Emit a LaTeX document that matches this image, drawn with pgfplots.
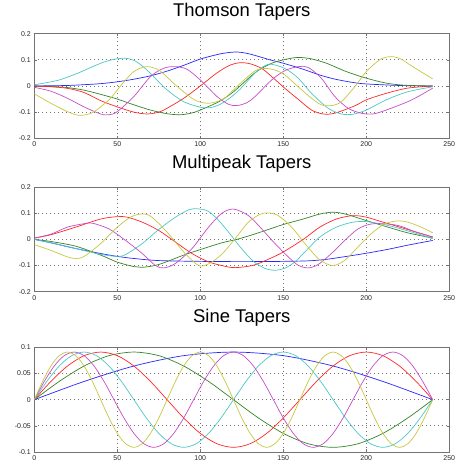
\documentclass[border=0pt]{standalone}
\usepackage{fontspec}
\setmainfont{Liberation Sans}
\usepackage{pgfplots}
\pgfplotsset{compat=1.18}

\definecolor{mb}{rgb}{0.15,0.15,1}
\definecolor{mg}{rgb}{0.2,0.52,0.15}
\definecolor{mr}{rgb}{1,0.15,0.15}
\definecolor{mc}{rgb}{0.3,0.78,0.78}
\definecolor{mm}{rgb}{0.78,0.3,0.78}
\definecolor{my}{rgb}{0.78,0.78,0.25}

\pgfplotsset{
  taper/.style={
    scale only axis, width=415bp, height=104.6bp,
    xmin=0, xmax=250,
    xtick={0,50,100,150,200,250}, xticklabels={0,50,100,150,200,250},
    grid=major,
    major grid style={dash pattern=on 0.9bp off 3.1bp, black!55, line width=0.8bp},
    axis line style={black!55, line width=0.9bp},
    tick align=inside, major tick length=2.5bp,
    tick style={black!55, line width=0.5bp},
    ticklabel style={font=\fontsize{7}{8}\selectfont, text=black!85},
    title style={font=\fontsize{18.5}{20}\selectfont, at={(0.5,1)},
                 anchor=base, inner sep=0pt},
    every axis plot/.append style={line width=0.7bp, smooth},
  },
}

\begin{document}
\begin{tikzpicture}
\path[use as bounding box] (0,0) rectangle (458bp,463bp);

%-- Thomson tapers
\begin{axis}[taper, at={(34.3bp,324.7bp)}, anchor=south west,
  ymin=-0.2, ymax=0.2, ytick={-0.2,-0.1,0,0.1,0.2},
  yticklabels={-0.2,-0.1,0,0.1,0.2},
  title={Thomson Tapers}, title style={yshift=11bp}]
\addplot[mb] coordinates {
  (0,0)(10,0.001)(20,0.002)(30,0.005)(40,0.009)(50,0.016)(60,0.026)(70,0.039)
  (80,0.057)(90,0.079)(100,0.103)(110,0.12)(116,0.127)(122,0.13)(128,0.125)
  (134,0.115)(142,0.1)(150,0.087)(162,0.064)(172,0.042)(182,0.025)(196,0.01)
  (212,0.004)(225,0.001)(240,0)
};
\addplot[mg] coordinates {
  (0,0)(10,-0.002)(20,-0.006)(30,-0.016)(40,-0.032)(50,-0.05)(60,-0.072)
  (70,-0.092)(80,-0.106)(88,-0.11)(95,-0.103)(100,-0.092)(110,-0.064)
  (115,-0.045)(120,-0.022)(125,0.006)(130,0.035)(135,0.06)(143,0.087)
  (150,0.1)(158,0.109)(166,0.105)(176,0.087)(188,0.055)(200,0.03)(212,0.011)
  (223,0.003)(240,0)
};
\addplot[mr] coordinates {
  (0,0)(10,-0.003)(20,-0.009)(30,-0.025)(40,-0.056)(50,-0.08)(60,-0.1)
  (68,-0.107)(75,-0.1)(80,-0.085)(90,-0.047)(100,0)(110,0.05)(118,0.08)
  (124,0.089)(130,0.085)(137,0.067)(143,0.036)(151,-0.009)(159,-0.051)
  (167,-0.092)(174,-0.107)(181,-0.104)(193,-0.076)(200,-0.053)(212,-0.028)
  (225,-0.008)(240,0)
};
\addplot[mc] coordinates {
  (0,0.005)(5,0.01)(15,0.023)(25,0.046)(32,0.065)(40,0.087)(48,0.102)
  (55,0.106)(60,0.098)(65,0.077)(70,0.048)(80,-0.015)(90,-0.06)(100,-0.081)
  (106,-0.083)(112,-0.07)(118,-0.045)(124,-0.012)(133,0.05)(139,0.078)
  (143,0.083)(151,0.067)(159,0.03)(167,-0.028)(177,-0.085)(185,-0.107)
  (192,-0.108)(200,-0.092)(212,-0.053)(225,-0.022)(240,-0.003)
};
\addplot[mm] coordinates {
  (0,-0.005)(10,-0.02)(20,-0.047)(30,-0.08)(40,-0.107)(45,-0.11)(50,-0.098)
  (60,-0.04)(70,0.036)(78,0.068)(85,0.074)(92,0.064)(100,0.023)(110,-0.04)
  (117,-0.07)(122,-0.075)(128,-0.064)(133,-0.04)(143,0.023)(151,0.059)
  (159,0.074)(165,0.071)(173,0.029)(181,-0.04)(189,-0.085)(197,-0.104)
  (204,-0.107)(212,-0.092)(225,-0.06)(233,-0.034)(240,-0.008)
};
\addplot[my] coordinates {
  (0,-0.03)(10,-0.066)(20,-0.098)(27,-0.112)(35,-0.102)(45,-0.053)(50,-0.015)
  (55,0.023)(60,0.055)(67,0.074)(75,0.061)(85,0.004)(95,-0.047)(100,-0.062)
  (105,-0.066)(110,-0.06)(115,-0.045)(120,-0.015)(125,0.015)(133,0.058)
  (139,0.067)(145,0.061)(151,0.042)(159,-0.003)(167,-0.047)(173,-0.072)
  (179,-0.075)(185,-0.06)(193,-0.003)(200,0.055)(208,0.1)(214,0.112)
  (220,0.106)(228,0.074)(240,0.027)
};
\end{axis}

%-- Multipeak tapers
\begin{axis}[taper, at={(34.3bp,171.3bp)}, anchor=south west,
  ymin=-0.2, ymax=0.2, ytick={-0.2,-0.1,0,0.1,0.2},
  yticklabels={-0.2,-0.1,0,0.1,0.2},
  title={Multipeak Tapers}, title style={yshift=12.4bp}]
\addplot[mb] coordinates {
  (0,0)(10,-0.013)(25,-0.035)(40,-0.054)(50,-0.065)(60,-0.073)(75,-0.081)
  (100,-0.084)(125,-0.085)(150,-0.084)(165,-0.082)(175,-0.077)(185,-0.068)
  (200,-0.053)(213,-0.038)(225,-0.022)(240,-0.004)
};
\addplot[mg] coordinates {
  (0,0)(10,-0.008)(25,-0.026)(40,-0.06)(50,-0.087)(60,-0.104)(65,-0.107)
  (75,-0.096)(90,-0.06)(100,-0.039)(113,-0.013)(122,0)(132,0.019)(142,0.04)
  (150,0.057)(162,0.078)(172,0.097)(180,0.104)(188,0.096)(200,0.072)
  (213,0.047)(225,0.025)(240,0.005)
};
\addplot[mr] coordinates {
  (0,0.005)(10,0.018)(25,0.047)(40,0.078)(50,0.087)(56,0.085)(65,0.066)
  (75,0.034)(85,-0.01)(95,-0.054)(105,-0.086)(115,-0.103)(121,-0.108)
  (132,-0.099)(142,-0.073)(150,-0.048)(162,0)(172,0.047)(182,0.078)
  (192,0.091)(200,0.085)(209,0.068)(217,0.053)(229,0.03)(240,0.009)
};
\addplot[mc] coordinates {
  (0,0)(10,-0.013)(25,-0.035)(40,-0.057)(50,-0.065)(55,-0.058)(65,-0.016)
  (75,0.038)(85,0.085)(93,0.113)(98,0.117)(104,0.11)(110,0.08)(118,0.02)
  (124,-0.029)(132,-0.084)(139,-0.111)(145,-0.118)(151,-0.11)(157,-0.086)
  (163,-0.048)(172,0.009)(182,0.047)(192,0.066)(200,0.068)(209,0.059)
  (217,0.047)(229,0.025)(240,0.003)
};
\addplot[mm] coordinates {
  (0,0.005)(10,0.02)(20,0.047)(30,0.06)(35,0.062)(45,0.04)(55,-0.004)
  (65,-0.054)(73,-0.1)(78,-0.109)(85,-0.092)(95,-0.035)(105,0.047)
  (113,0.1)(120,0.116)(129,0.091)(137,0.04)(145,-0.016)(153,-0.067)
  (159,-0.099)(165,-0.109)(171,-0.096)(179,-0.054)(187,-0.004)(195,0.04)
  (203,0.059)(213,0.059)(221,0.05)(229,0.03)(240,0.009)
};
\addplot[my] coordinates {
  (0,-0.02)(10,-0.042)(20,-0.067)(25,-0.073)(30,-0.065)(40,-0.016)(50,0.047)
  (58,0.085)(64,0.097)(70,0.089)(80,0.028)(90,-0.048)(98,-0.096)(102,-0.101)
  (108,-0.082)(114,-0.05)(121,0.003)(129,0.066)(136,0.096)(141,0.101)
  (147,0.091)(155,0.047)(163,-0.016)(171,-0.073)(177,-0.096)(181,-0.099)
  (187,-0.08)(195,-0.029)(203,0.022)(211,0.059)(219,0.071)(225,0.066)
  (233,0.047)(240,0.025)
};
\end{axis}

%-- Sine tapers
\begin{axis}[taper, at={(34.3bp,11bp)}, anchor=south west,
  ymin=-0.1, ymax=0.1, ytick={-0.1,-0.05,0,0.05,0.1},
  yticklabels={-0.1,-0.05,0,0.05,0.1},
  title={Sine Tapers}, title style={yshift=19bp}]
\addplot[mb] coordinates {
  (0,0)(30,.0349)(60,.0644)(90,.0842)(120,.0911)(150,.0842)(180,.0644)
  (210,.0349)(240,0)
};
\addplot[mg] coordinates {
  (0,0)(15,.0349)(30,.0644)(45,.0842)(60,.0911)(75,.0842)(90,.0644)
  (105,.0349)(120,0)(135,-.0349)(150,-.0644)(165,-.0842)(180,-.0911)
  (195,-.0842)(210,-.0644)(225,-.0349)(240,0)
};
\addplot[mr] coordinates {
  (0,0)(10,.0349)(20,.0644)(30,.0842)(40,.0911)(50,.0842)(60,.0644)(70,.0349)
  (80,0)(90,-.0349)(100,-.0644)(110,-.0842)(120,-.0911)(130,-.0842)
  (140,-.0644)(150,-.0349)(160,0)(170,.0349)(180,.0644)(190,.0842)(200,.0911)
  (210,.0842)(220,.0644)(230,.0349)(240,0)
};
\addplot[mc] coordinates {
  (0,0)(7.5,.0349)(15,.0644)(22.5,.0842)(30,.0911)(37.5,.0842)(45,.0644)
  (52.5,.0349)(60,0)(67.5,-.0349)(75,-.0644)(82.5,-.0842)(90,-.0911)
  (97.5,-.0842)(105,-.0644)(112.5,-.0349)(120,0)(127.5,.0349)(135,.0644)
  (142.5,.0842)(150,.0911)(157.5,.0842)(165,.0644)(172.5,.0349)(180,0)
  (187.5,-.0349)(195,-.0644)(202.5,-.0842)(210,-.0911)(217.5,-.0842)
  (225,-.0644)(232.5,-.0349)(240,0)
};
\addplot[mm] coordinates {
  (0,0)(6,.0349)(12,.0644)(18,.0842)(24,.0911)(30,.0842)(36,.0644)(42,.0349)
  (48,0)(54,-.0349)(60,-.0644)(66,-.0842)(72,-.0911)(78,-.0842)(84,-.0644)
  (90,-.0349)(96,0)(102,.0349)(108,.0644)(114,.0842)(120,.0911)(126,.0842)
  (132,.0644)(138,.0349)(144,0)(150,-.0349)(156,-.0644)(162,-.0842)
  (168,-.0911)(174,-.0842)(180,-.0644)(186,-.0349)(192,0)(198,.0349)
  (204,.0644)(210,.0842)(216,.0911)(222,.0842)(228,.0644)(234,.0349)(240,0)
};
\addplot[my] coordinates {
  (0,0)(5,.0349)(10,.0644)(15,.0842)(20,.0911)(25,.0842)(30,.0644)(35,.0349)
  (40,0)(45,-.0349)(50,-.0644)(55,-.0842)(60,-.0911)(65,-.0842)(70,-.0644)
  (75,-.0349)(80,0)(85,.0349)(90,.0644)(95,.0842)(100,.0911)(105,.0842)
  (110,.0644)(115,.0349)(120,0)(125,-.0349)(130,-.0644)(135,-.0842)
  (140,-.0911)(145,-.0842)(150,-.0644)(155,-.0349)(160,0)(165,.0349)
  (170,.0644)(175,.0842)(180,.0911)(185,.0842)(190,.0644)(195,.0349)(200,0)
  (205,-.0349)(210,-.0644)(215,-.0842)(220,-.0911)(225,-.0842)(230,-.0644)
  (235,-.0349)(240,0)
};
\end{axis}
\end{tikzpicture}
\end{document}
